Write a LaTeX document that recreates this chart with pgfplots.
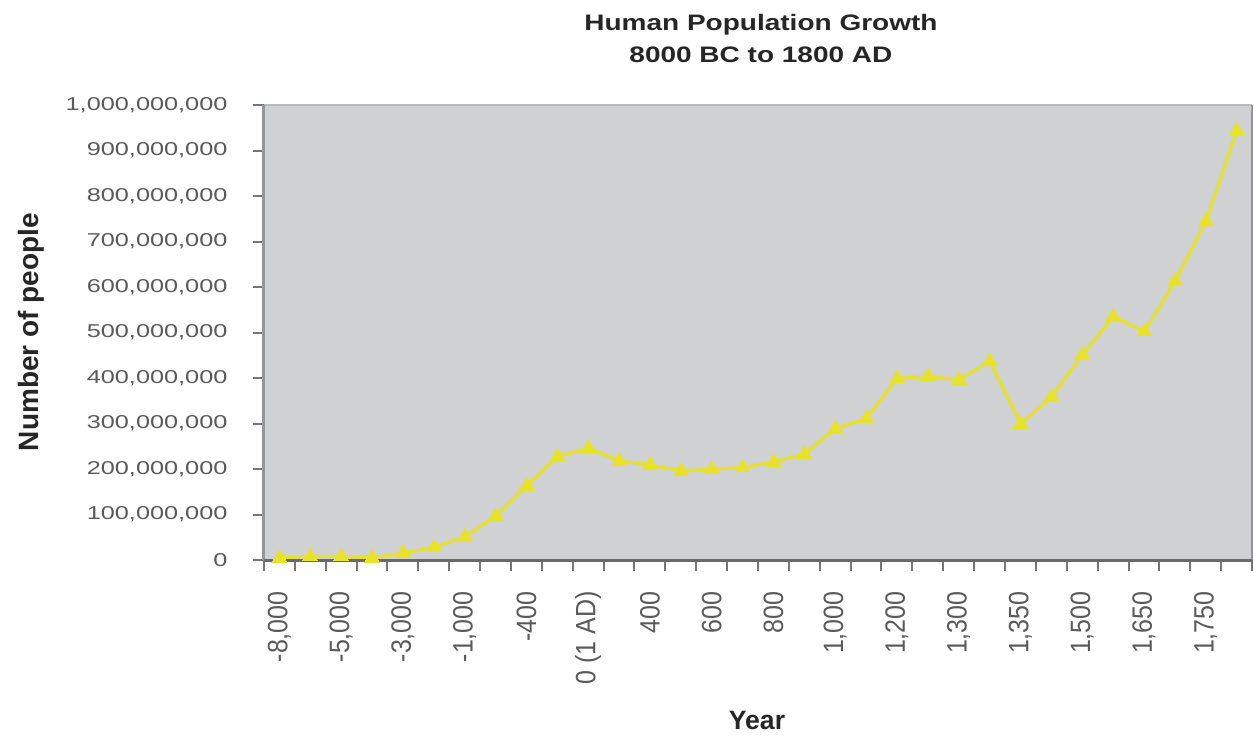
\documentclass[border=0pt]{standalone}
\usepackage{pgfplots}
\pgfplotsset{compat=1.18}
\usepackage{fontspec}
\setmainfont{Liberation Sans}

\definecolor{plotbg}{RGB}{208,209,211}
\definecolor{lineyel}{RGB}{232,226,40}
\definecolor{tickgray}{RGB}{118,118,120}
\definecolor{labgray}{RGB}{90,90,90}
\definecolor{topgray}{RGB}{184,186,189}
\definecolor{leftgray}{RGB}{150,150,152}
\definecolor{botgray}{RGB}{105,106,108}

\pgfplotstableread{
x y
0 5000000
1 8000000
2 8000000
3 5000000
4 15000000
5 28000000
6 51000000
7 97000000
8 163000000
9 228000000
10 246000000
11 218000000
12 209000000
13 196000000
14 200000000
15 203000000
16 216000000
17 233000000
18 289000000
19 311000000
20 399000000
21 404000000
22 396000000
23 437000000
24 299000000
25 359000000
26 451000000
27 535000000
28 502000000
29 612000000
30 745000000
31 944000000
}\popdata

\begin{document}
\begin{tikzpicture}
\path[use as bounding box] (-132pt,-88pt) rectangle (495pt,280pt);
\begin{axis}[
    scale only axis,
    width=494pt, height=227.5pt,
    at={(0,0)}, anchor=south west,
    xmin=-0.5, xmax=31.5,
    ymin=0, ymax=1000000000,
    scaled y ticks=false,
    axis background/.style={fill=plotbg},
    axis line style={draw=none},
    clip=false,
    tick align=outside,
    xtick pos=bottom, ytick pos=left,
    xtick={0,2,...,30},
    xticklabels={{-8,000},{-5,000},{-3,000},{-1,000},{-400},{0 (1 AD)},{400},{600},{800},{1,000},{1,200},{1,300},{1,350},{1,500},{1,650},{1,750}},
    major x tick style={draw=none},
    minor xtick={-0.5,0.5,...,31.5},
    minor tick length=5.5pt,
    minor x tick style={tickgray, line width=1pt},
    ytick={0,100000000,200000000,300000000,400000000,500000000,600000000,700000000,800000000,900000000,1000000000},
    yticklabels={0,{100,000,000},{200,000,000},{300,000,000},{400,000,000},{500,000,000},{600,000,000},{700,000,000},{800,000,000},{900,000,000},{1,000,000,000}},
    major tick length=5.5pt,
    ytick style={tickgray, line width=1pt},
    yticklabel style={anchor=east, inner sep=0pt, xshift=-12.5pt, xscale=1.36,
        font=\fontsize{9.3}{11}\selectfont, text=labgray},
    xticklabel style={anchor=east, inner sep=0pt, yshift=-10pt, rotate=90, yscale=1.12,
        font=\fontsize{12.5}{14}\selectfont, text=labgray},
]
\addplot[lineyel, line width=1.5pt, mark=triangle*, mark size=4.3pt,
    mark options={fill=lineyel, draw=lineyel, line width=0pt, solid}]
    table[x=x, y=y] {\popdata};

\draw[topgray, line width=1pt] (rel axis cs:0,1) -- (rel axis cs:1,1);
\draw[leftgray, line width=1.2pt] (rel axis cs:1,0) -- (rel axis cs:1,1);
\draw[leftgray, line width=1.5pt] (rel axis cs:0,0) -- (rel axis cs:0,1);
\draw[botgray, line width=1.5pt] (rel axis cs:0,0) -- (rel axis cs:1,0);

\node[anchor=base, xscale=1.25, font=\fontsize{11.2}{13}\selectfont\bfseries, text=black!85]
    at (axis description cs:0.503,1.163) {Human Population Growth};
\node[anchor=base, xscale=1.25, font=\fontsize{11.2}{13}\selectfont\bfseries, text=black!85]
    at (axis description cs:0.503,1.0945) {8000 BC to 1800 AD};
\node[rotate=90, font=\fontsize{14}{16}\selectfont\bfseries, text=black!85]
    at (axis description cs:-0.236,0.501) {Number of people};
\node[anchor=base, font=\fontsize{13.3}{15}\selectfont\bfseries, text=black!85]
    at (axis description cs:0.499,-0.372) {Year};
\end{axis}
\end{tikzpicture}
\end{document}
